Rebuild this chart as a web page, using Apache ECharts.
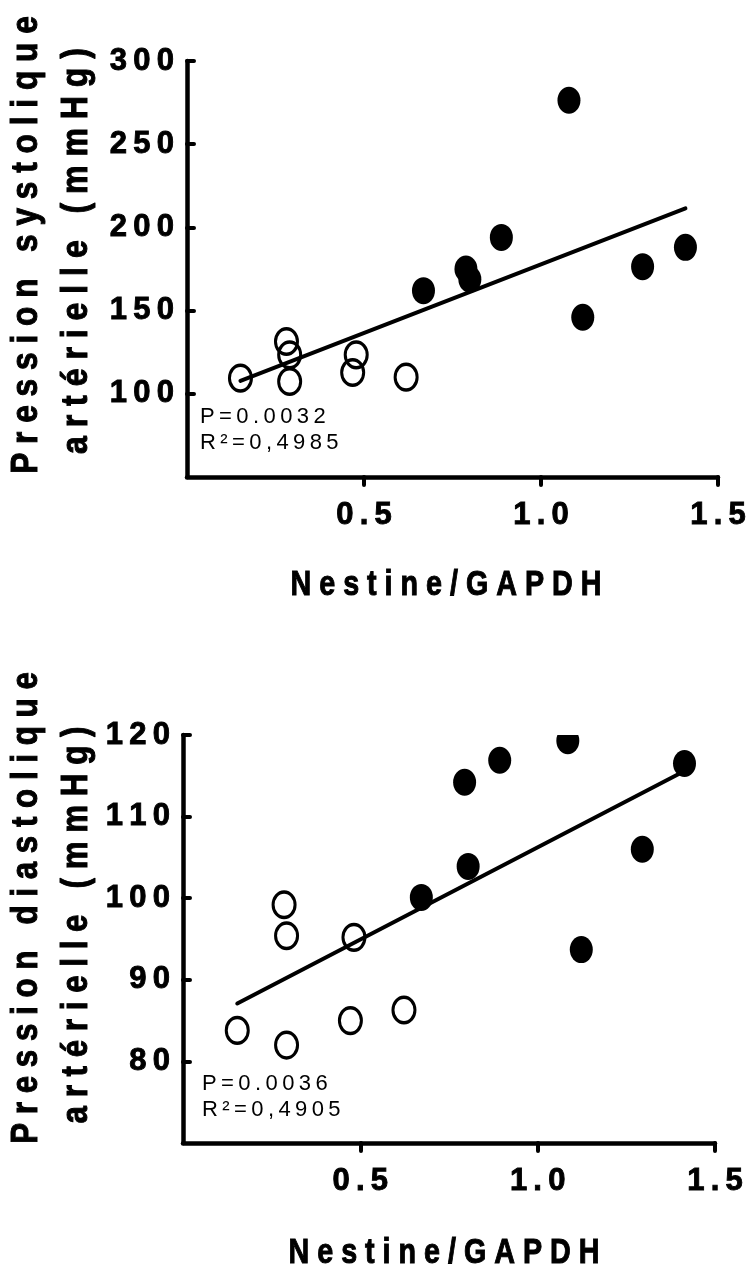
<!DOCTYPE html>
<html>
<head>
<meta charset="utf-8">
<script src="https://cdn.jsdelivr.net/npm/echarts@6/dist/echarts.min.js"></script>
<style>
html,body{margin:0;padding:0;background:#fff;}
#c{width:746px;height:1268px;}
</style>
</head>
<body>
<div id="c"></div>
<script>
// ---- data ----
const xTickValues = [0.5, 1.0, 1.5];
const sysTickValues = [100, 150, 200, 250, 300];
const diaTickValues = [80, 90, 100, 110, 120];

// Systolic (top)
const sysOpenX   = [0.151, 0.281, 0.290, 0.290, 0.478, 0.468, 0.619];
const sysOpenY   = [109.4, 131.4, 123.4, 107.4, 123.4, 112.8, 110.0];
const sysFilledX = [0.668, 0.788, 0.799, 0.888, 1.079, 1.118, 1.287, 1.408];
const sysFilledY = [162.0, 175.0, 168.8, 194.0, 276.4, 146.0, 176.4, 188.0];
const sysFitX = [0.151, 1.408];
const sysFitY = [107.8, 211.4];

// Diastolic (bottom)
const diaOpenX   = [0.153, 0.285, 0.292, 0.292, 0.482, 0.472, 0.623];
const diaOpenY   = [83.8, 99.2, 95.4, 82.0, 95.2, 85.0, 86.3];
const diaFilledX = [0.672, 0.804, 0.794, 0.893, 1.085, 1.414, 1.295, 1.123];
const diaFilledY = [100.1, 103.9, 114.2, 116.9, 119.3, 116.5, 106.0, 93.7];
const diaFitX = [0.153, 1.414];
const diaFitY = [87.1, 115.6];

const xTitle = 'Nestine/GAPDH';
const sysTitle = ['Pression systolique', 'artérielle (mmHg)'];
const diaTitle = ['Pression diastolique', 'artérielle (mmHg)'];
const sysStats = ['P=0.0032', 'R²=0,4985'];
const diaStats = ['P=0.0036', 'R²=0,4905'];

// ---- helpers ----
const FONT = '"Liberation Sans", Arial, Helvetica, sans-serif';
const THIN = '\u2009';
const spaced = (s, sep) => Array.from(s).join(sep === undefined ? ' ' : sep);
const pairs = (xs, ys) => xs.map((x, i) => [x, ys[i]]);

function marker(filled) {
  const rx = filled ? 11.5 : 11;
  const ry = filled ? 13.5 : 12.8;
  return function (params, api) {
    const p = api.coord([api.value(0), api.value(1)]);
    return {
      type: 'circle',
      x: p[0], y: p[1], scaleY: ry / rx,
      shape: { cx: 0, cy: 0, r: rx },
      style: filled ? { fill: '#000' } : { fill: 'none', stroke: '#000', lineWidth: 3, strokeNoScale: true }
    };
  };
}

function xAxisCfg(gi) {
  return {
    gridIndex: gi, type: 'value', min: 0, max: 1.5,
    splitLine: { show: false },
    axisLine: { show: true, onZero: false, lineStyle: { color: '#000', width: 4.5, cap: 'round' } },
    axisTick: { show: true, inside: false, length: 8, customValues: xTickValues, lineStyle: { color: '#000', width: 4, cap: 'round' } },
    axisLabel: { show: true, customValues: xTickValues, margin: 23, color: '#000', fontSize: 31, fontWeight: 'bold', fontFamily: FONT,
      textBorderColor: '#000', textBorderWidth: 0.9,
      formatter: v => spaced(Number(v).toFixed(1), THIN) }
  };
}
function yAxisCfg(gi, min, max, ticks) {
  return {
    gridIndex: gi, type: 'value', min: min, max: max,
    splitLine: { show: false },
    axisLine: { show: true, onZero: false, lineStyle: { color: '#000', width: 4.5, cap: 'round' } },
    axisTick: { show: true, inside: true, length: 7, customValues: ticks, lineStyle: { color: '#000', width: 4, cap: 'round' } },
    axisLabel: { show: true, customValues: ticks, margin: 13, color: '#000', fontSize: 31, fontWeight: 'bold', fontFamily: FONT,
      textBorderColor: '#000', textBorderWidth: 0.9,
      formatter: v => spaced(String(v), THIN) }
  };
}
function titleText(str, x, y, size, scale, rotated) {
  return { type: 'text', x: x, y: y, rotation: rotated ? Math.PI / 2 : 0, scaleX: scale, silent: true,
    style: { text: spaced(str), font: 'bold ' + size + 'px ' + FONT, fill: '#000', stroke: '#000', lineWidth: 1,
      align: 'center', verticalAlign: 'middle' } };
}
function statText(str, x, y) {
  return { type: 'text', x: x, y: y, silent: true,
    style: { text: spaced(str, THIN), font: '22px ' + FONT, fill: '#000', align: 'left', verticalAlign: 'middle' } };
}

const chart = echarts.init(document.getElementById('c'), null, { renderer: 'canvas' });
chart.setOption({
  animation: false,
  backgroundColor: '#fff',
  grid: [
    { left: 187, right: 28, top: 61, bottom: 791, containLabel: false, outerBoundsMode: 'none' },
    { left: 183, right: 31, top: 735, bottom: 125, containLabel: false, outerBoundsMode: 'none' }
  ],
  xAxis: [xAxisCfg(0), xAxisCfg(1)],
  yAxis: [yAxisCfg(0, 50, 300, sysTickValues), yAxisCfg(1, 70, 120, diaTickValues)],
  series: [
    { type: 'line', xAxisIndex: 0, yAxisIndex: 0, data: pairs(sysFitX, sysFitY), symbol: 'none',
      lineStyle: { color: '#000', width: 4, cap: 'round' }, z: 2 },
    { type: 'custom', xAxisIndex: 0, yAxisIndex: 0, data: pairs(sysOpenX, sysOpenY), renderItem: marker(false), clip: true, z: 3 },
    { type: 'custom', xAxisIndex: 0, yAxisIndex: 0, data: pairs(sysFilledX, sysFilledY), renderItem: marker(true), clip: true, z: 3 },
    { type: 'line', xAxisIndex: 1, yAxisIndex: 1, data: pairs(diaFitX, diaFitY), symbol: 'none',
      lineStyle: { color: '#000', width: 4, cap: 'round' }, z: 2 },
    { type: 'custom', xAxisIndex: 1, yAxisIndex: 1, data: pairs(diaOpenX, diaOpenY), renderItem: marker(false), clip: true, z: 3 },
    { type: 'custom', xAxisIndex: 1, yAxisIndex: 1, data: pairs(diaFilledX, diaFilledY), renderItem: marker(true), clip: true, z: 3 }
  ],
  graphic: [
    titleText(sysTitle[0], 27, 245, 36, 0.88, true),
    titleText(sysTitle[1], 77, 251, 36, 0.89, true),
    titleText(diaTitle[0], 27, 908, 36, 0.87, true),
    titleText(diaTitle[1], 77, 925, 36, 0.87, true),
    titleText(xTitle, 446, 585, 35, 0.82, false),
    titleText(xTitle, 444, 1253, 35, 0.82, false),
    statText(sysStats[0], 200, 417),
    statText(sysStats[1], 200, 443),
    statText(diaStats[0], 202, 1084),
    statText(diaStats[1], 202, 1110)
  ]
});
</script>
</body>
</html>
